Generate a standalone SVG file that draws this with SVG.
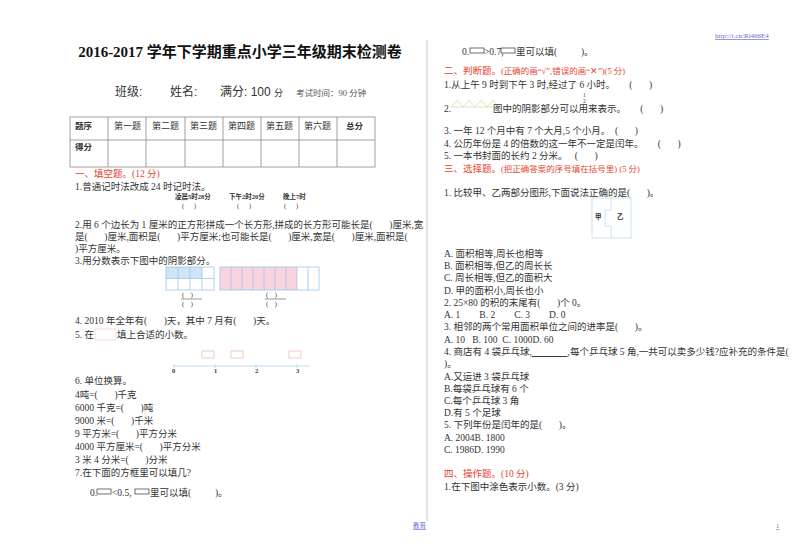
<svg xmlns="http://www.w3.org/2000/svg" width="800" height="553" viewBox="0 0 800 553" xml:space="preserve">
<style>
text{font-family:"Liberation Serif","Noto Sans CJK SC",serif;font-size:9.5px;fill:#333;white-space:pre}
.h{font-family:"Liberation Sans","Noto Sans CJK SC",sans-serif}
.r{fill:#e8432e}
.b{font-weight:bold}
.s{font-size:6.5px}
.tl{stroke:#888;stroke-width:0.8;fill:none}
.bl{stroke:#9cc8e8;stroke-width:0.8}
</style>
<rect width="800" height="553" fill="#fff"/>
<g id="header">
<text x="240" y="57" text-anchor="middle" class="b" style="font-size:15px;fill:#111">2016-2017 学年下学期重点小学三年级期末检测卷</text>
<text x="115" y="96" class="h" style="font-size:12px">班级:</text>
<text x="170" y="96" class="h" style="font-size:12px">姓名:</text>
<text x="220" y="96" class="h" style="font-size:12px">满分: 100 <tspan style="font-size:9px">分</tspan></text>
<text x="296" y="96" style="font-size:8.5px;fill:#555">考试时间：90 分钟</text>
<text x="715" y="38" style="font-size:7px;fill:#6a6ad8;text-decoration:underline">http://t.cn/Ri466E4</text>
</g>
<g id="table">
<rect x="70" y="117" width="305" height="50" class="tl"/>
<line x1="70" y1="140" x2="375" y2="140" class="tl"/>
<g class="tl"><line x1="108" y1="117" x2="108" y2="167"/><line x1="146" y1="117" x2="146" y2="167"/><line x1="185" y1="117" x2="185" y2="167"/><line x1="223" y1="117" x2="223" y2="167"/><line x1="261" y1="117" x2="261" y2="167"/><line x1="299" y1="117" x2="299" y2="167"/><line x1="337" y1="117" x2="337" y2="167"/></g>
<text x="75" y="129" class="b h" style="font-size:8.5px">题序</text>
<text x="114" y="129" class="h" style="font-size:9px">第一题</text>
<text x="152" y="129" class="h" style="font-size:9px">第二题</text>
<text x="190" y="129" class="h" style="font-size:9px">第三题</text>
<text x="228" y="129" class="h" style="font-size:9px">第四题</text>
<text x="266" y="129" class="h" style="font-size:9px">第五题</text>
<text x="304" y="129" class="h" style="font-size:9px">第六题</text>
<text x="346" y="129" class="b h" style="font-size:8.5px">总分</text>
<text x="75" y="150" class="b h" style="font-size:8.5px">得分</text>
</g>
<g id="left">
<text x="75" y="177" class="r">一、填空题。(12 分)</text>
<text x="75" y="190">1.普通记时法改成 24 时记时法。</text>
<text x="175" y="199" class="s b">凌晨5时28分</text><text x="229" y="199" class="s b">下午2时20分</text><text x="283" y="199" class="s b">晚上7时</text>
<text x="182" y="208" class="s">(      )</text><text x="237" y="208" class="s">(      )</text><text x="284" y="208" class="s">(      )</text>
<text x="75" y="228">2.用 6 个边长为 1 厘米的正方形拼成一个长方形,拼成的长方形可能长是(       )厘米,宽</text>
<text x="75" y="240">是(       )厘米,面积是(       )平方厘米;也可能长是(       )厘米,宽是(       )厘米,面积是(</text>
<text x="75" y="252">)平方厘米。</text>
<text x="75" y="264">3.用分数表示下图中的阴影部分。</text>
<rect x="166" y="267" width="36" height="11.5" fill="#cfe5f7"/>
<g class="bl" fill="none"><rect x="166" y="267" width="48" height="23"/><line x1="166" y1="278.5" x2="214" y2="278.5"/><line x1="178" y1="267" x2="178" y2="290"/><line x1="190" y1="267" x2="190" y2="290"/><line x1="202" y1="267" x2="202" y2="290"/></g>
<rect x="220" y="267" width="77" height="23" fill="#f9d3de"/>
<g class="bl" fill="none"><rect x="220" y="267" width="99" height="23"/><line x1="231" y1="267" x2="231" y2="290"/><line x1="242" y1="267" x2="242" y2="290"/><line x1="253" y1="267" x2="253" y2="290"/><line x1="264" y1="267" x2="264" y2="290"/><line x1="275" y1="267" x2="275" y2="290"/><line x1="286" y1="267" x2="286" y2="290"/><line x1="297" y1="267" x2="297" y2="290"/><line x1="308" y1="267" x2="308" y2="290"/></g>
<text x="182" y="297" class="s">(    )</text><line x1="181" y1="299" x2="202" y2="299" stroke="#555" stroke-width="0.6"/><text x="182" y="306" class="s">(    )</text>
<text x="266" y="297" class="s">(    )</text><line x1="265" y1="299" x2="286" y2="299" stroke="#555" stroke-width="0.6"/><text x="266" y="306" class="s">(    )</text>
<text x="75" y="324">4. 2010 年全年有(       )天，其中 7 月有(       )天。</text>
<text x="75" y="338">5. 在</text><rect x="95" y="329" width="21" height="11" fill="none" stroke="#f3c9d4" stroke-width="0.7"/><text x="117" y="338">填上合适的小数。</text>
<g stroke="#9cc8e8" stroke-width="0.6" fill="none">
<line x1="174" y1="366" x2="310" y2="366"/>
<path d="M174 364v4M215 364v4M256 364v4M297 364v4"/>
<rect x="202" y="351" width="12" height="7" stroke="#e8a0b0"/><rect x="231" y="351" width="12" height="7" stroke="#e8a0b0"/><rect x="289" y="351" width="12" height="7" stroke="#e8a0b0"/>
</g>
<text x="172" y="373" class="s b">0</text><text x="214" y="373" class="s b">1</text><text x="255" y="373" class="s b">2</text><text x="296" y="373" class="s b">3</text>
<text x="75" y="384">6. 单位换算。</text>
<text x="75" y="398">4吨=(       )千克</text>
<text x="75" y="411">6000 千克=(       )吨</text>
<text x="75" y="424">9000 米=(       )千米</text>
<text x="75" y="437">9 平方米=(       )平方分米</text>
<text x="75" y="450">4000 平方厘米=(       )平方分米</text>
<text x="75" y="463">3 米 4 分米=(       )分米</text>
<text x="75" y="476">7.在下面的方框里可以填几?</text>
<text x="90" y="496">0.</text><rect x="97" y="489" width="14" height="5" fill="none" stroke="#333" stroke-width="0.7"/><text x="112" y="496">&lt;0.5,</text><rect x="135" y="489" width="14" height="5" fill="none" stroke="#333" stroke-width="0.7"/><text x="150" y="496">里可以填(          )。</text>
</g>
<line x1="427" y1="40" x2="427" y2="521" stroke="#bbb" stroke-width="0.8"/>
<g id="right">
<text x="462" y="55">0.</text><rect x="470" y="48" width="14" height="5" fill="none" stroke="#333" stroke-width="0.7"/><text x="484" y="55">&gt;0.7,</text><rect x="501" y="48" width="14" height="5" fill="none" stroke="#333" stroke-width="0.7"/><text x="516" y="55">里可以填(          )。</text>
<text x="444" y="74" class="r">二、判断题。<tspan style="font-size:8.5px">(正确的画“√”,错误的画“✕”)(5 分)</tspan></text>
<text x="444" y="88">1.从上午 9 时到下午 3 时,经过了 6 小时。      (       )</text>
<path d="M451 107l6-7 6 7 6-7 6 7 6-7 6 7 6-7 6 7z" fill="none" stroke="#cfe0a8" stroke-width="0.8"/>
<text x="444" y="112">2.</text><text x="493" y="112">图中的阴影部分可以用</text><text x="583" y="97" style="font-size:5.5px">1</text><text x="583" y="103" style="font-size:5.5px">2</text><text x="588" y="112">来表示。      (       )</text>
<text x="444" y="134">3. 一年 12 个月中有 7 个大月,5 个小月。  (       )</text>
<text x="444" y="147">4. 公历年份是 4 的倍数的这一年不一定是闰年。      (       )</text>
<text x="444" y="159">5. 一本书封面的长约 2 分米。   (       )</text>
<text x="444" y="172" class="r">三、选择题。<tspan style="font-size:8.5px">(把正确答案的序号填在括号里) (5 分)</tspan></text>
<text x="444" y="196">1. 比较甲、乙两部分图形,下面说法正确的是(       )。</text>
<rect x="592" y="198" width="39" height="40" fill="none" stroke="#b5d6ea" stroke-width="0.7"/>
<path d="M611 198v12h-6v16h6v12" fill="none" stroke="#b5d6ea" stroke-width="0.7"/>
<text x="595" y="219" class="s b">甲</text><text x="617" y="219" class="s b">乙</text>
<text x="444" y="257">A. 面积相等,周长也相等</text>
<text x="444" y="269">B. 面积相等,但乙的周长长</text>
<text x="444" y="281">C. 周长相等,但乙的面积大</text>
<text x="444" y="294">D. 甲的面积小,周长也小</text>
<text x="444" y="306">2. 25×80 的积的末尾有(       )个 0。</text>
<text x="444" y="318">A. 1        B. 2        C. 3        D. 0</text>
<text x="444" y="330">3. 相邻的两个常用面积单位之间的进率是(       )。</text>
<text x="444" y="343">A. 10   B. 100  C. 1000D. 60</text>
<text x="444" y="355">4. 商店有 4 袋乒乓球,<tspan text-decoration="underline">               </tspan>,每个乒乓球 5 角,一共可以卖多少钱?应补充的条件是(</text>
<text x="444" y="367">)。</text>
<text x="444" y="380">A.又运进 3 袋乒乓球</text>
<text x="444" y="392">B.每袋乒乓球有 6 个</text>
<text x="444" y="404">C.每个乒乓球 3 角</text>
<text x="444" y="416">D.有 5 个足球</text>
<text x="444" y="428">5. 下列年份是闰年的是(       )。</text>
<text x="444" y="441">A. 2004B. 1800</text>
<text x="444" y="453">C. 1986D. 1990</text>
<text x="444" y="477" class="r">四、操作题。(10 分)</text>
<text x="444" y="490">1.在下图中涂色表示小数。(3 分)</text>
</g>
<g id="footer">
<text x="413" y="528" style="font-size:6.5px;fill:#6a6ad8;text-decoration:underline">教育</text>
<text x="776" y="528" style="font-size:6.5px;fill:#6a6ad8;text-decoration:underline">1</text>
</g>
</svg>
